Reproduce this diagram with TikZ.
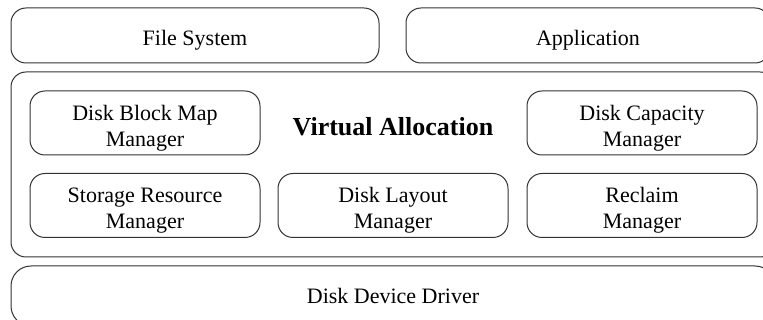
\documentclass[tikz,border=0pt]{standalone}
\usepackage{fontspec}
\setmainfont{Liberation Serif}
\begin{document}
\begin{tikzpicture}[x=1pt,y=-1pt,
  layer/.style={draw=black!80, line width=1pt, rounded corners=15pt, rectangle, inner sep=0pt},
  caption/.style={font=\fontsize{22}{26}\selectfont, align=center, yshift=-5pt},
  module/.style={layer, minimum width=230pt, minimum height=64pt}]
  \useasboundingbox (0,0) rectangle (763,320);
  \clip (0,0) rectangle (763,320);
  % top row
  \node[layer, minimum width=368pt, minimum height=55pt,
    label={[caption]center:File System}] (fs) at (195,35.5) {};
  \node[layer, minimum width=364pt, minimum height=55pt,
    label={[caption]center:Application}] (app) at (588,35.5) {};
  % virtual allocation layer
  \node[layer, minimum width=764pt, minimum height=185pt] (va) at (393,164.5) {};
  \node[font=\fontsize{26}{30}\selectfont\bfseries] (valabel) at (393,127) {Virtual Allocation};
  \node[module, label={[caption]center:Disk Block Map\\Manager}] (dbmm) at (145,123) {};
  \node[module, label={[caption]center:Disk Capacity\\Manager}] (dcm) at (642,123) {};
  \node[module, label={[caption]center:Storage Resource\\Manager}] (srm) at (145,205.5) {};
  \node[module, label={[caption]center:Disk Layout\\Manager}] (dlm) at (393,205.5) {};
  \node[module, label={[caption]center:Reclaim\\Manager}] (rm) at (642,205.5) {};
  % driver layer
  \node[layer, rounded corners=20pt, minimum width=764pt, minimum height=60pt,
    label={[caption, yshift=5pt]center:Disk Device Driver}] (ddd) at (393,296) {};
\end{tikzpicture}
\end{document}
